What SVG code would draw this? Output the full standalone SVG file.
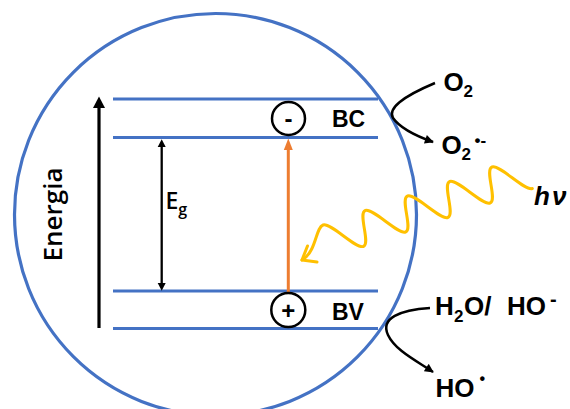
<svg xmlns="http://www.w3.org/2000/svg" width="570" height="409" viewBox="0 0 570 409">
  <style>
    .band { stroke: #4472C4; stroke-width: 3; fill: none; }
    .blk { stroke: #000; fill: none; }
    .lbl { font-family: "Liberation Sans", Arial, sans-serif; font-weight: bold; fill: #000; }
    .semi { font-family: "Open Sans", "Liberation Sans", sans-serif; font-weight: 600; fill: #000; }
  </style>
  <defs>
    <marker id="ah" viewBox="0 0 10 10" refX="9" refY="5" markerUnits="userSpaceOnUse" markerWidth="10" markerHeight="9" orient="auto">
      <path d="M0,0 L10,5 L0,10 Z" fill="#000"/>
    </marker>
  </defs>
  <rect width="570" height="409" fill="#fff"/>

  <g id="particle">
    <circle cx="215.5" cy="214.5" r="201" fill="none" stroke="#4472C4" stroke-width="3.2"/>
  </g>

  <g id="bands">
    <line class="band" x1="113" y1="99" x2="378" y2="99"/>
    <line class="band" x1="113" y1="137.5" x2="378" y2="137.5"/>
    <line class="band" x1="113" y1="291" x2="378" y2="291"/>
    <line class="band" x1="113" y1="328.5" x2="378" y2="328.5"/>
  </g>

  <g id="connectors">
    <!-- Energia axis -->
    <line class="blk" x1="99" y1="328" x2="99" y2="106" stroke-width="3.2"/>
    <path d="M99,96.5 L93,108 L105,108 Z" fill="#000"/>
    <!-- Eg double arrow -->
    <line class="blk" x1="161.7" y1="146" x2="161.7" y2="283" stroke-width="2.3"/>
    <path d="M161.7,139.3 L157.7,147 L165.7,147 Z" fill="#000"/>
    <path d="M161.7,290.7 L157.7,283 L165.7,283 Z" fill="#000"/>
    <!-- excitation arrow -->
    <line x1="288.3" y1="293" x2="288.3" y2="148" stroke="#ED7D31" stroke-width="3"/>
    <path d="M288.3,138.5 L283.8,150 L292.8,150 Z" fill="#ED7D31"/>
    <!-- O2 reduction -->
    <path class="blk" stroke-width="2.5" d="M435,83 Q385,104 393,118 Q402,131 433,142" marker-end="url(#ah)"/>
    <!-- H2O oxidation -->
    <path class="blk" stroke-width="2.5" d="M430,308 C400,310 380,318 388,335 C395,350 415,360 433,372" marker-end="url(#ah)"/>
    <!-- photon -->
    <path fill="none" stroke="#FFC000" stroke-width="3" stroke-linecap="round" vector-effect="non-scaling-stroke"
      transform="matrix(-0.945 0.324 0.554 0.833 501.6 181.4)"
      d="M-22.35,17.25 C-14.25,17.25 -8.1,-17.25 0,-17.25 S14.25,17.25 22.35,17.25 S36.6,-17.25 44.7,-17.25 S58.95,17.25 67.05,17.25 S81.3,-17.25 89.4,-17.25 S103.65,17.25 111.75,17.25 S126,-17.25 134.1,-17.25 S148.35,17.25 156.45,17.25 S170.7,-17.25 178.8,-17.25 C186.9,-17.25 200,7 217,9.9"/>
    <polyline points="307.5,246 302,260 317,262" fill="none" stroke="#FFC000" stroke-width="3" stroke-linecap="round" stroke-linejoin="round"/>
  </g>

  <g id="electron">
    <circle cx="288.5" cy="118.5" r="16.5" fill="#fff" stroke="#000" stroke-width="2.5"/>
    <text class="lbl" x="288.5" y="126.5" font-size="24" text-anchor="middle">-</text>
  </g>
  <g id="hole">
    <circle cx="288.3" cy="310" r="17" fill="#fff" stroke="#000" stroke-width="2.5"/>
    <text class="lbl" x="288.3" y="319" font-size="24" text-anchor="middle">+</text>
  </g>

  <g id="label-energia">
    <text class="semi" font-size="26" text-anchor="middle" transform="translate(62,214.5) rotate(-90)">Energia</text>
  </g>
  <g id="label-eg">
    <text class="semi" x="165.5" y="209" font-size="23">E<tspan font-size="16" dy="6">g</tspan></text>
  </g>
  <g id="label-bc">
    <text class="lbl" x="332" y="127.3" font-size="23">BC</text>
  </g>
  <g id="label-bv">
    <text class="lbl" x="332" y="320" font-size="23">BV</text>
  </g>

  <g id="label-o2">
    <text class="lbl" font-size="26"><tspan x="443.5" y="90.5">O</tspan><tspan x="463.5" y="97" font-size="17">2</tspan></text>
  </g>
  <g id="label-o2rad">
    <text class="lbl" font-size="26"><tspan x="441.5" y="153.5">O</tspan><tspan x="461.5" y="160" font-size="17">2</tspan><tspan x="474.5" y="145.5" font-size="17">•-</tspan></text>
  </g>
  <g id="label-h2o">
    <text class="lbl" font-size="26"><tspan x="435" y="315">H</tspan><tspan x="454" y="322" font-size="17">2</tspan><tspan x="464" y="315">O/</tspan><tspan x="507" y="315">HO</tspan><tspan x="550" y="306" font-size="20">-</tspan></text>
  </g>
  <g id="label-ho">
    <text class="lbl" font-size="26"><tspan x="435.5" y="397">HO</tspan><tspan x="479.5" y="384" font-size="16">•</tspan></text>
  </g>
  <g id="label-hv">
    <text class="lbl" font-size="26" font-style="italic"><tspan x="534" y="205">h</tspan><tspan x="552" y="205">ν</tspan></text>
  </g>
</svg>
